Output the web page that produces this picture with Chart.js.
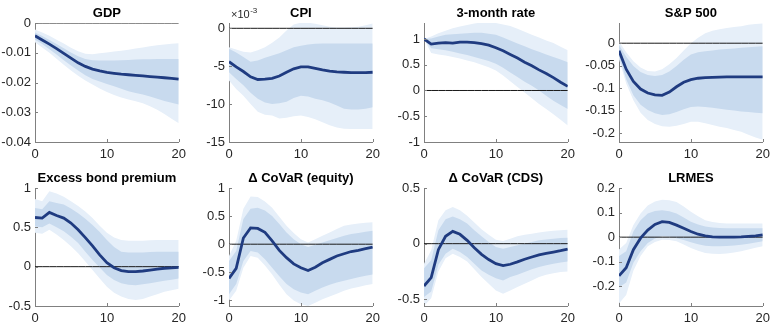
<!DOCTYPE html>
<html><head><meta charset="utf-8">
<script src="https://cdn.jsdelivr.net/npm/chart.js@4/dist/chart.umd.min.js"></script>
<style>
html,body{margin:0;padding:0;background:#fff;width:775px;height:330px;overflow:hidden;position:relative}
canvas{position:absolute}
</style></head><body>
<script>
// ---- DATA ----
const horizon = [0,1,2,3,4,5,6,7,8,9,10,11,12,13,14,15,16,17,18,19,20];

const gdpMed = [-0.0043,-0.0057,-0.0071,-0.0086,-0.0102,-0.0118,-0.0134,-0.0146,-0.0155,-0.0161,-0.0166,-0.0169,-0.0172,-0.0174,-0.0176,-0.0178,-0.0180,-0.0182,-0.0184,-0.0186,-0.0189];
const gdpIU  = [-0.0032,-0.0044,-0.0057,-0.0071,-0.0085,-0.0099,-0.0112,-0.0121,-0.0125,-0.0126,-0.0126,-0.0126,-0.0125,-0.0124,-0.0123,-0.0122,-0.0122,-0.0121,-0.0121,-0.0121,-0.0121];
const gdpIL  = [-0.0056,-0.0071,-0.0088,-0.0106,-0.0125,-0.0143,-0.0160,-0.0176,-0.0188,-0.0197,-0.0205,-0.0213,-0.0221,-0.0229,-0.0235,-0.0240,-0.0247,-0.0255,-0.0262,-0.0268,-0.0274];
const gdpOU  = [-0.0022,-0.0032,-0.0043,-0.0056,-0.0069,-0.0083,-0.0095,-0.0103,-0.0105,-0.0102,-0.0099,-0.0096,-0.0093,-0.0090,-0.0086,-0.0082,-0.0078,-0.0075,-0.0072,-0.0070,-0.0068];
const gdpOL  = [-0.0065,-0.0082,-0.0100,-0.0120,-0.0140,-0.0160,-0.0177,-0.0193,-0.0207,-0.0220,-0.0232,-0.0242,-0.0250,-0.0257,-0.0263,-0.0270,-0.0280,-0.0292,-0.0306,-0.0322,-0.0337];

// CPI in units of 10^-3
const cpiMed = [-4.4,-5.1,-5.7,-6.4,-6.75,-6.7,-6.6,-6.3,-5.8,-5.35,-5.1,-5.1,-5.3,-5.5,-5.65,-5.75,-5.8,-5.85,-5.85,-5.85,-5.8];
const cpiIU  = [-2.7,-3.2,-3.8,-4.4,-4.25,-3.9,-3.6,-3.3,-2.9,-2.5,-2.3,-2.15,-2.05,-2.0,-2.0,-2.0,-2.0,-2.0,-2.0,-2.0,-2.0];
const cpiIL  = [-5.8,-6.7,-7.5,-8.5,-9.3,-9.8,-10.0,-9.9,-9.7,-9.2,-8.9,-9.0,-9.3,-9.5,-9.8,-10.2,-10.6,-10.7,-10.7,-10.6,-10.4];
const cpiOU  = [-2.5,-2.8,-3.1,-3.2,-2.9,-2.5,-1.9,-1.2,-0.3,0.5,0.75,0.75,0.6,0.4,0.2,0.1,0.1,0.15,0.2,0.4,0.65];
const cpiOL  = [-6.9,-8.0,-8.9,-10.0,-11.0,-11.4,-11.5,-11.9,-11.8,-11.6,-11.5,-11.7,-12.0,-12.4,-12.8,-13.1,-13.25,-13.3,-13.3,-13.3,-13.3];

const rateMed = [1.0,0.9,0.92,0.93,0.92,0.94,0.94,0.93,0.91,0.88,0.83,0.77,0.70,0.63,0.55,0.48,0.40,0.33,0.25,0.16,0.08];
const rateIU  = [1.0,1.01,1.05,1.08,1.09,1.10,1.11,1.12,1.12,1.10,1.08,1.03,0.97,0.91,0.86,0.80,0.75,0.70,0.65,0.60,0.55];
const rateIL  = [1.0,0.82,0.80,0.78,0.75,0.72,0.69,0.65,0.61,0.57,0.52,0.44,0.35,0.26,0.17,0.09,0.0,-0.10,-0.20,-0.28,-0.36];
const rateOU  = [1.0,1.05,1.11,1.16,1.21,1.24,1.27,1.30,1.32,1.32,1.31,1.28,1.25,1.20,1.14,1.08,1.03,0.97,0.92,0.85,0.78];
const rateOL  = [1.0,0.73,0.70,0.68,0.65,0.62,0.58,0.55,0.50,0.45,0.39,0.29,0.18,0.07,-0.04,-0.15,-0.26,-0.36,-0.46,-0.57,-0.68];

const spMed = [-0.017,-0.058,-0.085,-0.102,-0.111,-0.115,-0.116,-0.109,-0.097,-0.087,-0.081,-0.078,-0.0765,-0.076,-0.0755,-0.075,-0.075,-0.075,-0.075,-0.075,-0.075];
const spIU  = [-0.004,-0.030,-0.051,-0.064,-0.071,-0.073,-0.071,-0.063,-0.051,-0.037,-0.025,-0.020,-0.018,-0.016,-0.014,-0.013,-0.012,-0.010,-0.009,-0.008,-0.007];
const spIL  = [-0.029,-0.080,-0.116,-0.137,-0.149,-0.156,-0.160,-0.158,-0.153,-0.147,-0.142,-0.141,-0.142,-0.144,-0.146,-0.148,-0.150,-0.152,-0.153,-0.155,-0.156];
const spOU  = [0.004,-0.020,-0.040,-0.054,-0.062,-0.063,-0.058,-0.047,-0.033,-0.016,0.000,0.012,0.022,0.028,0.031,0.034,0.036,0.038,0.041,0.043,0.044];
const spOL  = [-0.036,-0.090,-0.127,-0.155,-0.171,-0.180,-0.185,-0.186,-0.184,-0.180,-0.175,-0.175,-0.178,-0.182,-0.186,-0.189,-0.193,-0.197,-0.204,-0.210,-0.215];

const ebpMed = [0.625,0.617,0.69,0.65,0.617,0.555,0.47,0.37,0.264,0.15,0.05,-0.013,-0.05,-0.064,-0.064,-0.055,-0.043,-0.03,-0.02,-0.015,-0.01];
const ebpIU  = [0.745,0.73,0.83,0.81,0.79,0.74,0.68,0.61,0.53,0.44,0.34,0.25,0.19,0.18,0.18,0.18,0.185,0.19,0.19,0.19,0.19];
const ebpIL  = [0.51,0.50,0.55,0.50,0.45,0.38,0.30,0.19,0.085,-0.01,-0.106,-0.17,-0.21,-0.23,-0.235,-0.225,-0.21,-0.195,-0.18,-0.165,-0.15];
const ebpOU  = [0.86,0.83,0.96,0.93,0.89,0.83,0.77,0.70,0.62,0.52,0.43,0.37,0.34,0.33,0.33,0.33,0.335,0.34,0.34,0.34,0.34];
const ebpOL  = [0.43,0.42,0.47,0.41,0.34,0.26,0.17,0.065,-0.043,-0.15,-0.255,-0.33,-0.38,-0.41,-0.425,-0.41,-0.38,-0.35,-0.32,-0.30,-0.28];

const eqMed = [-0.61,-0.43,0.11,0.29,0.28,0.21,0.06,-0.11,-0.24,-0.35,-0.42,-0.47,-0.41,-0.33,-0.27,-0.21,-0.17,-0.13,-0.11,-0.08,-0.05];
const eqIU  = [-0.30,-0.12,0.45,0.63,0.65,0.60,0.50,0.36,0.21,0.09,0.0,-0.05,-0.01,0.03,0.07,0.11,0.15,0.18,0.20,0.22,0.24];
const eqIL  = [-0.89,-0.71,-0.30,-0.12,-0.15,-0.27,-0.42,-0.57,-0.71,-0.80,-0.86,-0.89,-0.83,-0.77,-0.72,-0.68,-0.65,-0.62,-0.59,-0.56,-0.54];
const eqOU  = [-0.21,0.06,0.63,0.85,0.84,0.76,0.65,0.49,0.33,0.20,0.09,0.03,0.09,0.15,0.21,0.27,0.33,0.35,0.37,0.38,0.39];
const eqOL  = [-1.0,-0.83,-0.42,-0.21,-0.24,-0.38,-0.54,-0.72,-0.89,-1.0,-1.07,-1.1,-1.04,-0.98,-0.93,-0.88,-0.83,-0.79,-0.76,-0.73,-0.71];

const cdsMed = [-0.38,-0.305,-0.054,0.066,0.11,0.084,0.03,-0.036,-0.096,-0.143,-0.18,-0.197,-0.185,-0.164,-0.14,-0.12,-0.10,-0.087,-0.075,-0.063,-0.048];
const cdsIU  = [-0.22,-0.15,0.12,0.22,0.245,0.22,0.18,0.12,0.066,0.015,-0.03,-0.045,-0.03,-0.015,0.0,0.015,0.03,0.038,0.045,0.05,0.054];
const cdsIL  = [-0.48,-0.43,-0.19,-0.09,-0.045,-0.075,-0.12,-0.18,-0.24,-0.28,-0.31,-0.33,-0.30,-0.28,-0.255,-0.23,-0.21,-0.195,-0.18,-0.17,-0.16];
const cdsOU  = [-0.18,-0.06,0.21,0.30,0.33,0.30,0.25,0.19,0.13,0.08,0.036,0.024,0.045,0.066,0.08,0.09,0.10,0.11,0.115,0.12,0.125];
const cdsOL  = [-0.56,-0.49,-0.25,-0.13,-0.09,-0.12,-0.16,-0.23,-0.30,-0.36,-0.42,-0.45,-0.42,-0.39,-0.36,-0.33,-0.30,-0.28,-0.265,-0.255,-0.25];

const lrMed = [-0.157,-0.124,-0.051,-0.004,0.029,0.052,0.063,0.06,0.049,0.036,0.023,0.012,0.005,0.001,0,0,0,0.001,0.003,0.005,0.009];
const lrIU  = [-0.077,-0.057,0.023,0.069,0.096,0.106,0.109,0.105,0.096,0.080,0.063,0.052,0.043,0.039,0.037,0.036,0.036,0.036,0.036,0.036,0.036];
const lrIL  = [-0.204,-0.184,-0.104,-0.057,-0.024,-0.005,0.005,0.003,-0.004,-0.012,-0.021,-0.029,-0.035,-0.037,-0.037,-0.036,-0.034,-0.031,-0.027,-0.022,-0.017];
const lrOU  = [-0.05,-0.024,0.049,0.096,0.129,0.145,0.152,0.150,0.143,0.125,0.103,0.085,0.069,0.062,0.058,0.056,0.056,0.056,0.056,0.056,0.056];
const lrOL  = [-0.27,-0.235,-0.137,-0.077,-0.037,-0.020,-0.011,-0.012,-0.017,-0.030,-0.044,-0.055,-0.064,-0.067,-0.068,-0.066,-0.062,-0.057,-0.050,-0.043,-0.037];

const titles = ["GDP","CPI","3-month rate","S&P 500","Excess bond premium","\u0394 CoVaR (equity)","\u0394 CoVaR (CDS)","LRMES"];
const xTicks = [0,10,20];
const yTicks = [
  [-0.04,-0.03,-0.02,-0.01,0],
  [-15,-10,-5,0],
  [-1,-0.5,0,0.5,1],
  [-0.2,-0.15,-0.1,-0.05,0],
  [-0.5,0,0.5,1],
  [-1,-0.5,0,0.5,1],
  [-0.5,0,0.5],
  [-0.2,-0.1,0,0.1,0.2]
];
const yRanges = [[-0.04,0],[-15,0.7],[-1,1.31],[-0.22,0.045],[-0.5,1],[-1.1,1],[-0.56,0.5],[-0.28,0.2]];
const series = [
  [gdpMed,gdpIU,gdpIL,gdpOU,gdpOL],
  [cpiMed,cpiIU,cpiIL,cpiOU,cpiOL],
  [rateMed,rateIU,rateIL,rateOU,rateOL],
  [spMed,spIU,spIL,spOU,spOL],
  [ebpMed,ebpIU,ebpIL,ebpOU,ebpOL],
  [eqMed,eqIU,eqIL,eqOU,eqOL],
  [cdsMed,cdsIU,cdsIL,cdsOU,cdsOL],
  [lrMed,lrIU,lrIL,lrOU,lrOL]
];

// ---- LAYOUT (plot-area boxes in page pixels) ----
const colL = [35,229,424,619], colR = [183,377,572,767];
const rowT = [23,188], rowB = [142,306];

const FONT = "'Liberation Sans', Arial, Helvetica, sans-serif";
const LINE = '#1f3b80', INNER = '#c8daee', OUTER = '#e6eff9', AXIS = '#808080';

const fmt = v => String(parseFloat(Number(v).toFixed(6)));

const inwardTicks = {
  id: 'inwardTicks',
  afterDraw(chart) {
    const ctx = chart.ctx, a = chart.chartArea, xs = chart.scales.x, ys = chart.scales.y;
    ctx.save();
    ctx.strokeStyle = AXIS; ctx.lineWidth = 1;
    ctx.beginPath();
    xTicks.forEach(v => { const px = Math.round(xs.getPixelForValue(v)) + 0.5; ctx.moveTo(px, a.bottom); ctx.lineTo(px, a.bottom - 3); });
    ys.ticks.forEach(t => { const py = Math.round(ys.getPixelForValue(t.value)) + 0.5; ctx.moveTo(a.left, py); ctx.lineTo(a.left + 3, py); });
    ctx.stroke();
    if (chart.options.plugins.inwardTicks && chart.options.plugins.inwardTicks.exponent) {
      ctx.fillStyle = '#262626';
      ctx.textBaseline = 'alphabetic';
      ctx.textAlign = 'left';
      ctx.font = '11px ' + FONT;
      const x0 = a.left + 2, y0 = a.top - 5;
      ctx.fillText('\u00d710', x0, y0);
      const w = ctx.measureText('\u00d710').width;
      ctx.font = '8px ' + FONT;
      ctx.fillText('-3', x0 + w + 0.5, y0 - 5);
    }
    ctx.restore();
  }
};

for (let p = 0; p < 8; p++) {
  const col = p % 4, row = Math.floor(p / 4);
  const L = colL[col], R = colR[col], T = rowT[row], B = rowB[row];
  const W = Math.min(40, L);
  const cv = document.createElement('canvas');
  const cw = (R - L) + W + 8, ch = (B - T) + 24 + 22;
  cv.width = cw; cv.height = ch;
  cv.style.left = (L - W) + 'px'; cv.style.top = (T - 24) + 'px';
  cv.style.width = cw + 'px'; cv.style.height = ch + 'px';
  document.body.appendChild(cv);

  const [med, iu, il, ou, ol] = series[p];
  const pts = arr => horizon.map((h, i) => ({x: h, y: arr[i]}));
  const zero = horizon.map(() => 0);
  const band = { borderWidth: 0, pointRadius: 0, tension: 0 };

  new Chart(cv.getContext('2d'), {
    type: 'line',
    data: {
      datasets: [
        { data: pts(med), borderColor: LINE, borderWidth: 2.8, pointRadius: 0, fill: false, order: 0 },
        { data: pts(zero), borderColor: '#1a1a1a', borderWidth: 1, pointRadius: 0, fill: false, order: 1 },
        Object.assign({ data: pts(iu), fill: 3, backgroundColor: INNER, order: 2 }, band),
        Object.assign({ data: pts(il), fill: false, order: 2 }, band),
        Object.assign({ data: pts(ou), fill: 5, backgroundColor: OUTER, order: 3 }, band),
        Object.assign({ data: pts(ol), fill: false, order: 3 }, band)
      ]
    },
    options: {
      responsive: false, animation: false, devicePixelRatio: 1,
      layout: { padding: { left: 0, right: 8, top: 0, bottom: 0 } },
      plugins: {
        legend: { display: false }, tooltip: { enabled: false },
        title: { display: true, fullSize: false, text: titles[p], color: '#000',
                 font: { family: FONT, size: 13, weight: 'bold', lineHeight: 1.2 },
                 padding: { top: 6.2, bottom: 2.2 } },
        inwardTicks: { exponent: p === 1 }
      },
      scales: {
        x: {
          type: 'linear', min: 0, max: 20,
          afterBuildTicks: s => { s.ticks = xTicks.map(v => ({ value: v })); },
          afterFit: s => { s.height = 22; },
          ticks: { font: { family: FONT, size: 13 }, color: '#262626', padding: 5, maxRotation: 0, autoSkip: false, callback: v => fmt(v) },
          grid: { display: true, drawOnChartArea: false, drawTicks: false },
          border: { display: true, color: AXIS, width: 1 }
        },
        y: {
          min: yRanges[p][0], max: yRanges[p][1],
          afterBuildTicks: s => { s.ticks = yTicks[p].map(v => ({ value: v })); },
          afterFit: s => { s.width = W; },
          ticks: { font: { family: FONT, size: 13 }, color: '#262626', padding: 4, autoSkip: false, callback: v => fmt(v) },
          grid: { display: true, drawOnChartArea: false, drawTicks: false },
          border: { display: true, color: AXIS, width: 1 }
        }
      }
    },
    plugins: [inwardTicks]
  });
}
</script>
</body></html>
